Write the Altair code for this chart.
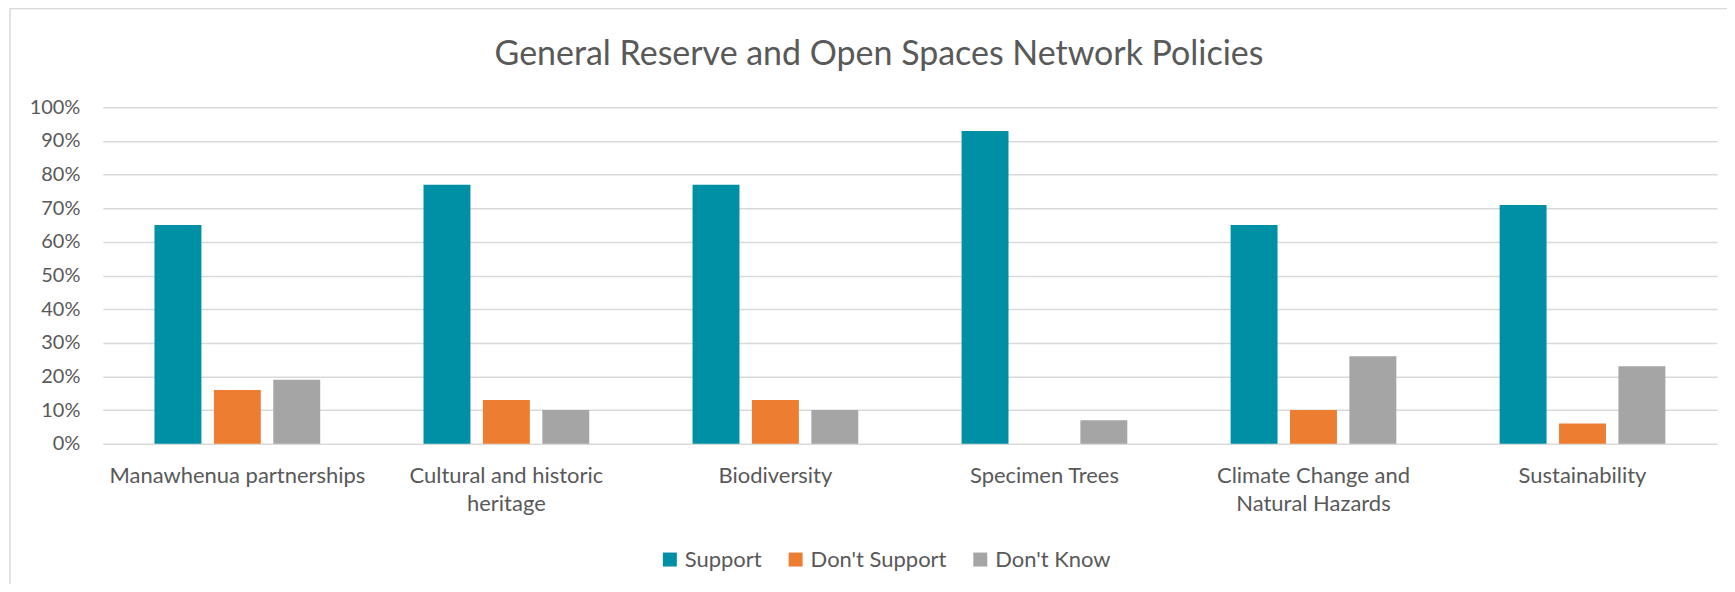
import altair as alt
import pandas as pd

categories = [
    "Manawhenua partnerships",
    "Cultural and historic heritage",
    "Biodiversity",
    "Specimen Trees",
    "Climate Change and Natural Hazards",
    "Sustainability",
]
series = ["Support", "Don't Support", "Don't Know"]
support = [65, 77, 77, 93, 65, 71]
dont_support = [16, 13, 13, 0, 10, 6]
dont_know = [19, 10, 10, 7, 26, 23]
colors = ["#0090A5", "#ED7D31", "#A5A5A5"]
y_ticks = [0, 0.1, 0.2, 0.3, 0.4, 0.5, 0.6, 0.7, 0.8, 0.9, 1.0]

rows = []
for i, c in enumerate(categories):
    for s, vals in zip(series, [support, dont_support, dont_know]):
        rows.append({"category": c, "series": s, "value": vals[i] / 100})
df = pd.DataFrame(rows)

wrap = {
    "Cultural and historic heritage": ["Cultural and historic", "heritage"],
    "Climate Change and Natural Hazards": ["Climate Change and", "Natural Hazards"],
}
label_expr = ""
for k, v in wrap.items():
    label_expr += f"datum.label == '{k}' ? ['{v[0]}', '{v[1]}'] : "
label_expr += "datum.label"

FONT = "Lato"
TXT = "#595959"
W, H = 1617, 337

bars = alt.Chart(df).mark_bar().encode(
    x=alt.X(
        "category:N",
        sort=categories,
        scale=alt.Scale(paddingInner=0.384, paddingOuter=0.192),
        axis=alt.Axis(
            title=None, labelAngle=0, ticks=False, domain=False, labelPadding=22,
            labelFontSize=22, labelColor=TXT, labelFont=FONT, labelLineHeight=28,
            labelExpr=label_expr, labelBaseline="top", labelLimit=400,
        ),
    ),
    xOffset=alt.XOffset("series:N", sort=series,
                        scale=alt.Scale(paddingInner=0.21, paddingOuter=0)),
    y=alt.Y(
        "value:Q",
        scale=alt.Scale(domain=[0, 1]),
        axis=alt.Axis(
            title=None, format=".0%", values=y_ticks, grid=True, gridColor="#D9D9D9",
            gridWidth=1.5, ticks=False, domain=False, labelPadding=23,
            labelFontSize=20, labelColor=TXT, labelFont=FONT,
        ),
    ),
    color=alt.Color(
        "series:N",
        sort=series,
        scale=alt.Scale(domain=series, range=colors),
        legend=alt.Legend(
            title=None, orient="none", legendX=557, legendY=442, direction="horizontal",
            symbolType="square", symbolSize=196, symbolStrokeWidth=0,
            labelFontSize=22, labelFont=FONT, labelColor=TXT, columnPadding=22,
            labelOffset=4, padding=0,
        ),
    ),
)

border_df = pd.DataFrame({"a": [0]})
left_border = alt.Chart(border_df).mark_rule(color="#D9D9D9", strokeWidth=1.5).encode(
    x=alt.value(-93), y=alt.value(-99), y2=alt.value(500)
)
top_border = alt.Chart(border_df).mark_rule(color="#D9D9D9", strokeWidth=1.5).encode(
    x=alt.value(-93), x2=alt.value(1700), y=alt.value(-99)
)

chart = (
    alt.layer(left_border, top_border, bars)
    .properties(
        width=W,
        height=H,
        title=alt.TitleParams(
            "General Reserve and Open Spaces Network Policies",
            fontSize=34, font=FONT, fontWeight="normal", color=TXT,
            anchor="middle", dx=-31, offset=-64,
        ),
        autosize=alt.AutoSizeParams(type="none"),
        padding={"left": 95, "top": 99, "right": 10, "bottom": 140},
    )
    .configure_view(stroke=None)
)

chart.save("out.html", embed_options={"renderer": "svg", "actions": False})
